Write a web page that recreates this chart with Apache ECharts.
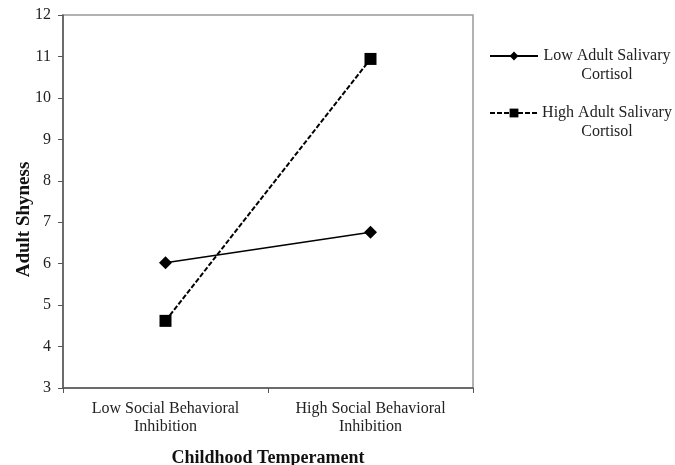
<!DOCTYPE html>
<html><head><meta charset="utf-8">
<script src="https://cdn.jsdelivr.net/npm/echarts@6/dist/echarts.min.js"></script>
<style>html,body{margin:0;padding:0;background:#fff}#c{width:675px;height:465px}</style>
</head><body><div id="c"></div>
<script>
const categories = ['Low Social Behavioral\nInhibition', 'High Social Behavioral\nInhibition'];
const lowCortisol = [6.02, 6.76];
const highCortisol = [4.62, 10.94];
const seriesNames = ['Low Adult Salivary Cortisol', 'High Adult Salivary Cortisol'];
const yMin = 3, yMax = 12, yStep = 1;

const font = '"Liberation Serif", "Times New Roman", serif';
const chart = echarts.init(document.getElementById('c'));
chart.setOption({
  animation: false,
  textStyle: { fontFamily: font, color: '#222' },
  grid: { left: 63, right: 202, top: 15, bottom: 77, show: true, borderColor: '#999', borderWidth: 1.5,
          containLabel: false, outerBoundsMode: 'none' },
  legend: {
    orient: 'vertical', left: 489, top: 29, itemGap: 3, padding: 0,
    itemWidth: 48, itemHeight: 11,
    data: seriesNames,
    formatter: function (n) {
      const parts = n.split(' Cortisol');
      return '{a| }\n{a|' + parts[0] + '}\n{a|Cortisol}';
    },
    textStyle: {
      fontFamily: font, fontSize: 16, color: '#222',
      rich: { a: { fontFamily: font, fontSize: 16, color: '#222', width: 128, align: 'center', lineHeight: 19 } }
    }
  },
  xAxis: {
    type: 'category', data: categories, boundaryGap: true,
    name: 'Childhood Temperament', nameLocation: 'middle', nameGap: 61, nameMoveOverlap: false,
    nameTextStyle: { fontFamily: font, fontSize: 18, fontWeight: 'bold', color: '#111' },
    axisLine: { lineStyle: { color: '#555', width: 1.5 } },
    axisTick: { show: true, length: 5, lineStyle: { color: '#555' } },
    axisLabel: { fontFamily: font, fontSize: 16, color: '#222', margin: 12, lineHeight: 18 }
  },
  yAxis: {
    type: 'value', min: yMin, max: yMax, interval: yStep,
    name: 'Adult Shyness', nameLocation: 'middle', nameGap: 29, nameMoveOverlap: false,
    nameTextStyle: { fontFamily: font, fontSize: 19, fontWeight: 'bold', color: '#111', padding: [0, 36, 0, 0] },
    axisLine: { show: true, lineStyle: { color: '#555', width: 1.5 } },
    axisTick: { show: true, length: 5, lineStyle: { color: '#555' } },
    splitLine: { show: false },
    axisLabel: { fontFamily: font, fontSize: 16, color: '#222', margin: 12 }
  },
  series: [
    {
      name: seriesNames[0], type: 'line', data: lowCortisol,
      symbol: 'diamond', symbolSize: 13,
      lineStyle: { color: '#000', width: 1.5, type: 'solid' },
      itemStyle: { color: '#000' }
    },
    {
      name: seriesNames[1], type: 'line', data: highCortisol,
      symbol: 'rect', symbolSize: 12,
      lineStyle: { color: '#000', width: 2, type: [5, 2] },
      itemStyle: { color: '#000' }
    }
  ]
});
</script></body></html>
